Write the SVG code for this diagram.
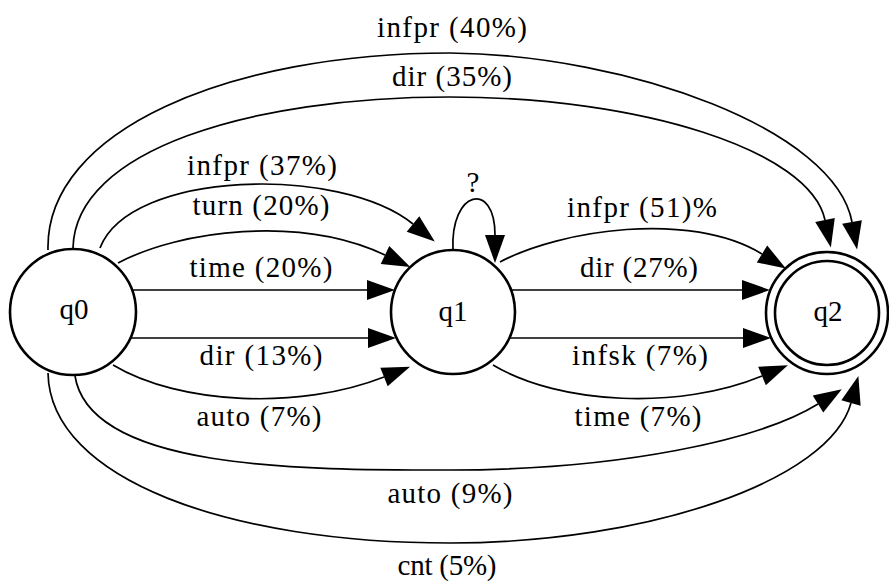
<svg xmlns="http://www.w3.org/2000/svg" width="889" height="581" viewBox="0 0 889 581">
<style>
.node circle{fill:none;stroke:#000;stroke-width:2.6}
.edge{fill:none;stroke:#000;stroke-width:1.7;marker-end:url(#ah)}
text{font-family:"Liberation Serif","Times New Roman",serif;fill:#000;text-anchor:middle}
.nl{font-size:29px}
.el{font-size:29px}
</style>
<defs>
<marker id="ah" markerUnits="userSpaceOnUse" markerWidth="32" markerHeight="24" refX="0" refY="10" orient="auto" overflow="visible">
<path d="M0,0 L28,10 L0,20 z" fill="#000"/>
</marker>
</defs>
<rect width="889" height="581" fill="#fff"/>
<g id="connectors">
<path class="edge" d="M48,250 C45,130 230,53 450,53 C630,55 835,130 852,222"/>
<path class="edge" d="M73,248 C75,150 250,97 450,97 C640,97 810,150 825,220"/>
<path class="edge" d="M100,248 C130,170 340,165 413,224"/>
<path class="edge" d="M118,263 C180,230 300,215 385,255"/>
<path class="edge" d="M132,290 L367,290"/>
<path class="edge" d="M130,338 L368,338"/>
<path class="edge" d="M113,365 C180,405 300,410 384,377"/>
<path class="edge" d="M453,250 C450,190 495,180 495,235"/>
<path class="edge" d="M500,262 C560,230 690,210 762,254"/>
<path class="edge" d="M511,290 L742,290"/>
<path class="edge" d="M510,338 L743,338"/>
<path class="edge" d="M493,365 C560,405 680,410 762,376"/>
<path class="edge" d="M75,376 C90,470 300,470 450,470 C620,470 760,440 818,404"/>
<path class="edge" d="M48,373 C50,480 230,543 450,543 C650,543 830,480 851,403"/>
<text class="el" x="452" y="37" textLength="150">infpr (40%)</text>
<text class="el" x="452" y="86" textLength="120">dir (35%)</text>
<text class="el" x="262" y="175" textLength="150">infpr (37%)</text>
<text class="el" x="261" y="215" textLength="137">turn (20%)</text>
<text class="el" x="261" y="277" textLength="143">time (20%)</text>
<text class="el" x="261" y="365" textLength="123">dir (13%)</text>
<text class="el" x="259" y="426" textLength="125">auto (7%)</text>
<text class="el" x="450" y="503" textLength="125">auto (9%)</text>
<text class="el" x="447" y="575" textLength="99">cnt (5%)</text>
<text class="el" x="473" y="192">?</text>
<text class="el" x="642" y="217" textLength="150">infpr (51)%</text>
<text class="el" x="639" y="277" textLength="118">dir (27%)</text>
<text class="el" x="640" y="365" textLength="136">infsk (7%)</text>
<text class="el" x="638" y="426" textLength="127">time (7%)</text>
</g>
<g id="q0" class="node">
<circle cx="73" cy="312" r="63"/>
<text class="nl" x="74" y="319">q0</text>
</g>
<g id="q1" class="node">
<circle cx="453" cy="312" r="62"/>
<text class="nl" x="453" y="321">q1</text>
</g>
<g id="q2" class="node">
<circle cx="827" cy="313" r="61"/>
<circle cx="827" cy="313" r="52"/>
<text class="nl" x="828" y="321">q2</text>
</g>
</svg>
